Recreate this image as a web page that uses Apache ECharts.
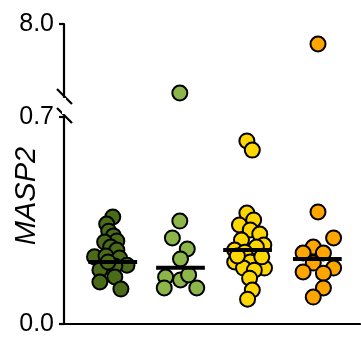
<!DOCTYPE html>
<html><head><meta charset="utf-8">
<script src="https://cdn.jsdelivr.net/npm/echarts@6/dist/echarts.min.js"></script>
<style>html,body{margin:0;padding:0;background:#fff}#c{width:361px;height:337px}</style>
</head><body><div id="c"></div>
<script>
// ---- data ----
const groupNames = ['G1','G2','G3','G4'];
const groupCenters = [1, 2, 2.99, 4.02];
const groupColors = ['#4a6b17', '#8cb64a', '#ffd700', '#ffa500'];
const medians = [0.21, 0.19, 0.25, 0.22];
// values (MASP2)
const g1Values = [0.362,0.338,0.314,0.298,0.281,0.277,0.260,0.250,0.227,0.230,0.223,0.199,0.183,0.196,0.142,0.159,0.118,0.210];
const g1Jitter = [0,-0.09,-0.06,0.01,0.06,-0.12,-0.03,0.06,-0.27,-0.10,0.10,0.21,-0.19,0.03,-0.19,0.03,0.12,-0.07];
const g2Values = [1.1,0.348,0.291,0.254,0.220,0.159,0.149,0.166,0.122,0.122];
const g2Jitter = [-0.01,-0.01,-0.12,0.10,0.0,-0.22,0.0,0.12,-0.24,0.24];
const g3Values = [0.619,0.588,0.375,0.352,0.335,0.318,0.304,0.284,0.267,0.250,0.260,0.243,0.210,0.210,0.189,0.189,0.182,0.155,0.115,0.084,0.230,0.227];
const g3Jitter = [-0.01,0.07,-0.01,0.09,-0.12,0.04,0.18,-0.09,0.24,-0.19,0.13,-0.04,-0.19,0.04,-0.06,0.25,0.10,0.03,0.07,0.0,-0.15,0.21];
const g4Values = [6.0,0.379,0.291,0.260,0.240,0.240,0.206,0.176,0.189,0.172,0.122,0.091];
const g4Jitter = [0.01,0.01,0.24,-0.06,-0.21,0.09,-0.06,-0.21,0.24,0.09,0.09,-0.06];
const bottomTicks = [0.0, 0.7];
const topTicks = [8.0];
// ---- build ----
const allValues = [g1Values, g2Values, g3Values, g4Values];
const allJitter = [g1Jitter, g2Jitter, g3Jitter, g4Jitter];
const BREAK = 0.7;
const series = [];
allValues.forEach((vals, gi) => {
  const low = [], high = [];
  vals.forEach((v, i) => {
    const pt = [groupCenters[gi] + allJitter[gi][i], v];
    (v > BREAK ? high : low).push(pt);
  });
  const style = {color: groupColors[gi], borderColor: '#000', borderWidth: 2, opacity: 1};
  series.push({type:'scatter', xAxisIndex:0, yAxisIndex:0, data: low, symbolSize: 15, itemStyle: style, clip:false, z:2, silent:true});
  series.push({type:'scatter', xAxisIndex:1, yAxisIndex:1, data: high, symbolSize: 15, itemStyle: style, clip:false, z:2, silent:true});
  series.push({type:'line', xAxisIndex:0, yAxisIndex:0, data: [[groupCenters[gi]-0.36, medians[gi]],[groupCenters[gi]+0.36, medians[gi]]],
    symbol:'none', lineStyle:{color:'#000', width:4}, z:5, silent:true});
});
const font = 'Liberation Sans, Arial, sans-serif';
const xMin = 0.28, xMax = 4.65;
const chart = echarts.init(document.getElementById('c'), null, {renderer:'canvas'});
chart.setOption({
  animation:false,
  grid:[{left:64, top:117, width:296, height:207},{left:64, top:24, width:296, height:73}],
  xAxis:[
    {type:'value', gridIndex:0, min:xMin, max:xMax, axisLine:{lineStyle:{color:'#000', width:2.2}}, axisTick:{show:false}, axisLabel:{show:false}, splitLine:{show:false}},
    {type:'value', gridIndex:1, min:xMin, max:xMax, show:false}
  ],
  yAxis:[
    {type:'value', gridIndex:0, min:0, max:0.7, interval:0.7,
      axisLine:{show:true, lineStyle:{color:'#000', width:2.2}},
      axisTick:{show:true, length:5, lineStyle:{color:'#000', width:2.2}},
      axisLabel:{color:'#000', fontSize:25, fontFamily:font, margin:10,
        formatter: v => bottomTicks.some(t => Math.abs(t-v)<1e-9) ? v.toFixed(1) : ''},
      splitLine:{show:false}},
    {type:'value', gridIndex:1, min:0.7, max:8, interval:7.3,
      axisLine:{show:true, lineStyle:{color:'#000', width:2.2}},
      axisTick:{show:true, length:5, lineStyle:{color:'#000', width:2.2},
        customValues: topTicks},
      axisLabel:{color:'#000', fontSize:25, fontFamily:font, margin:10,
        formatter: v => topTicks.some(t => Math.abs(t-v)<1e-9) ? v.toFixed(1) : ''},
      splitLine:{show:false}}
  ],
  graphic:[
    {type:'line', shape:{x1:57,y1:89,x2:72,y2:104}, style:{stroke:'#000', lineWidth:2.2}},
    {type:'line', shape:{x1:57,y1:108,x2:72,y2:123}, style:{stroke:'#000', lineWidth:2.2}},
    {type:'rect', shape:{x:62,y:98,width:4,height:16}, style:{fill:'#fff'}, z:100},
    {type:'text', x:27, y:196, rotation:Math.PI/2, style:{text:'MASP2', font:'italic 29px '+font, fill:'#000', align:'center', verticalAlign:'middle'}}
  ],
  series: series
});
</script></body></html>
